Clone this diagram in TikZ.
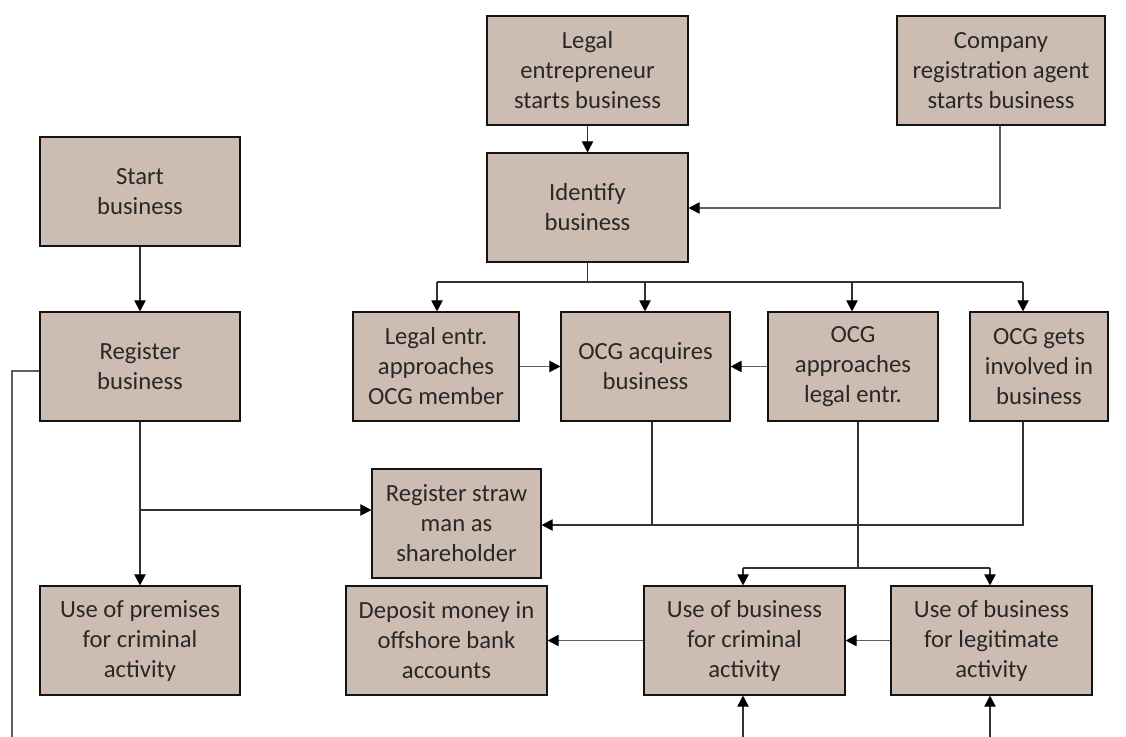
\documentclass[tikz,border=0pt]{standalone}
\usepackage{fontspec}
\setmainfont{Carlito}
\usetikzlibrary{arrows.meta}
\definecolor{boxfill}{RGB}{205,188,178}
\definecolor{txt}{RGB}{40,40,40}
\definecolor{ln}{RGB}{20,20,20}
\definecolor{lnc}{RGB}{50,50,50}
\definecolor{lngray}{RGB}{95,95,95}
\tikzset{
  box/.style={draw=ln, line width=0.9pt, fill=boxfill, text=txt, align=center,
    minimum height=81.75pt, inner sep=2pt, font=\fontsize{18.5}{22.5}\selectfont},
  conn/.style={draw=lnc, line width=0.8pt},
  arr/.style={conn, -{Triangle[length=8.25pt,width=8.5pt,color=black]}},
}
\begin{document}
\begin{tikzpicture}[x=0.75pt,y=-0.75pt]
\useasboundingbox[fill=white] (0,0) rectangle (1126,737);
% nodes
\node[box, minimum width=150.75pt] (LE) at (587.5,70.5) {Legal\\entrepreneur\\starts business};
\node[box, minimum width=156pt] (CA) at (1001,70.5) {Company\\registration agent\\starts business};
\node[box, minimum width=150.75pt] (ID) at (587.5,207.5) {Identify\\business};
\node[box, minimum width=150pt] (SB) at (140,191.5) {Start\\business};
\node[box, minimum width=150pt] (RB) at (140,366.5) {Register\\business};
\node[box, minimum width=124.5pt] (LA) at (436,366.5) {Legal entr.\\approaches\\OCG member};
\node[box, minimum width=126.75pt] (OA) at (645.5,366.5) {OCG acquires\\business};
\node[box, minimum width=127.5pt] (OP) at (853,366.5) {OCG\\approaches\\legal entr.};
\node[box, minimum width=103.5pt] (OG) at (1039,366.5) {OCG gets\\involved in\\business};
\node[box, minimum width=126.75pt] (SM) at (456.5,523.5) {Register straw\\man as\\shareholder};
\node[box, minimum width=150pt] (UP) at (140,640.5) {Use of premises\\for criminal\\activity};
\node[box, minimum width=150.75pt] (DM) at (446.5,640.5) {Deposit money in\\offshore bank\\accounts};
\node[box, minimum width=150.75pt] (UC) at (744.5,640.5) {Use of business\\for criminal\\activity};
\node[box, minimum width=150.75pt] (UL) at (991.5,640.5) {Use of business\\for legitimate\\activity};
% junction coordinates
\coordinate (J0) at (587.5,282);
\coordinate (J1) at (437,282);
\coordinate (J2) at (645,282);
\coordinate (J3) at (852,282);
\coordinate (J4) at (1023,282);
\coordinate (CAc) at (1000,208);
\coordinate (Rj) at (140,510);
\coordinate (Sm) at (652,525);
\coordinate (Sg) at (1023,525);
\coordinate (Pj) at (858,568);
\coordinate (Pa) at (743,568);
\coordinate (Pb) at (990,568);
\coordinate (Lx) at (12,371);
\coordinate (Ly) at (12,737);
\coordinate (Bc) at (743,737);
\coordinate (Bl) at (990,737);
% connectors
\draw[arr] (LE) -- (ID);
\draw[arr, draw=lngray] (CA.south -| CAc) -- (CAc) -- (ID.east |- CAc);
\draw[conn] (ID.south) -- (J0);
\draw[conn] (J1) -- (J4);
\draw[arr] (J1) -- (J1 |- LA.north);
\draw[arr] (J2) -- (J2 |- OA.north);
\draw[arr] (J3) -- (J3 |- OP.north);
\draw[arr] (J4) -- (J4 |- OG.north);
\draw[arr, draw=lngray] (LA) -- (OA);
\draw[arr, draw=lngray] (OP) -- (OA);
\draw[conn] (OA.south -| Sm) -- (Sm);
\draw[arr] (OG.south -| Sg) -- (Sg) -- (SM.east |- Sg);
\draw[arr] (SB) -- (RB);
\draw[arr] (RB) -- (UP);
\draw[arr] (Rj) -- (SM.west |- Rj);
\draw[conn, draw=lngray] (RB.west |- Lx) -- (Lx) -- (Ly);
\draw[conn] (OP.south -| Pj) -- (Pj);
\draw[conn] (Pa) -- (Pb);
\draw[arr] (Pa) -- (Pa |- UC.north);
\draw[arr] (Pb) -- (Pb |- UL.north);
\draw[arr, draw=lngray] (UL) -- (UC);
\draw[arr, draw=lngray] (UC) -- (DM);
\draw[arr] (Bc) -- (Bc |- UC.south);
\draw[arr] (Bl) -- (Bl |- UL.south);
\end{tikzpicture}
\end{document}
